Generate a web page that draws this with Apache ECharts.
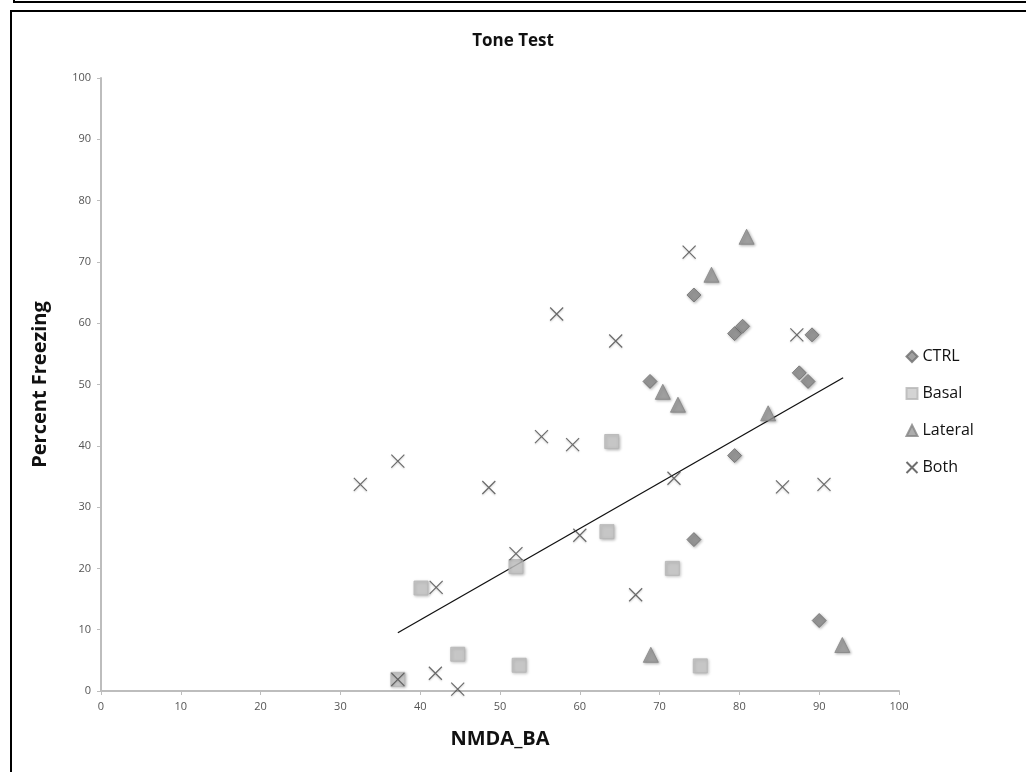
<!DOCTYPE html>
<html>
<head>
<meta charset="utf-8">
<script src="https://cdn.jsdelivr.net/npm/echarts@6/dist/echarts.min.js"></script>
<style>
  html, body { margin: 0; padding: 0; background: #fff; }
  #chart { width: 1026px; height: 772px; }
</style>
</head>
<body>
<div id="chart"></div>
<script>
// values: [NMDA_BA, Percent Freezing]
const ctrlData = [
  [74.3, 64.6], [79.4, 58.3], [80.4, 59.5], [89.1, 58.1], [87.5, 51.9],
  [88.6, 50.5], [68.8, 50.5], [79.4, 38.4], [74.3, 24.7], [90.0, 11.5]
];
const basalData = [
  [40.1, 16.8], [44.7, 6.0], [37.2, 1.9], [52.0, 20.3], [52.4, 4.2],
  [64.0, 40.7], [63.4, 26.0], [71.6, 20.0], [75.1, 4.1]
];
const lateralData = [
  [80.9, 74.1], [76.5, 67.9], [70.4, 48.8], [72.3, 46.7], [83.6, 45.3],
  [68.9, 5.9], [92.9, 7.5]
];
const bothData = [
  [32.5, 33.7], [37.2, 37.5], [48.6, 33.2], [55.2, 41.5], [59.1, 40.2],
  [52.0, 22.4], [42.0, 16.9], [60.0, 25.4], [41.9, 2.9], [37.2, 1.9],
  [44.7, 0.3], [73.7, 71.6], [64.5, 57.1], [87.2, 58.1], [57.1, 61.5],
  [71.8, 34.7], [85.4, 33.3], [90.6, 33.7], [67.0, 15.7]
];
const trendData = [[37.2, 9.5], [93.0, 51.1]];

const crossPath = "path://M0,0L10,10M10,0L0,10";
const markerShadow = {
  shadowBlur: 3,
  shadowColor: "rgba(0, 0, 0, 0.35)",
  shadowOffsetX: 1,
  shadowOffsetY: 1,
};

const chartDom = document.getElementById("chart");
const myChart = echarts.init(chartDom);
const option = {
  backgroundColor: "#fff",
  animation: false,
  textStyle: { fontFamily: "Open Sans" },
  title: {
    text: "Tone Test",
    left: "center",
    top: 28,
    textStyle: { fontSize: 17, fontWeight: "bold", color: "#111", fontFamily: "Open Sans" },
  },
  graphic: [
    {
      type: "rect",
      shape: { x: 14, y: -60, width: 1100, height: 62 },
      style: { fill: "none", stroke: "#000", lineWidth: 2 },
    },
    {
      type: "rect",
      shape: { x: 11, y: 11, width: 1100, height: 900 },
      style: { fill: "none", stroke: "#000", lineWidth: 2 },
    },
  ],
  grid: { left: 101, right: 127, top: 78, bottom: 81 },
  legend: {
    orient: "vertical",
    left: 899,
    top: 343,
    itemWidth: 11,
    itemHeight: 11,
    itemGap: 20,
    textStyle: { fontSize: 16, color: "#111", lineHeight: 17 },
    data: ["CTRL", "Basal", "Lateral", "Both"],
  },
  xAxis: {
    type: "value",
    min: 0,
    max: 100,
    interval: 10,
    name: "NMDA_BA",
    nameLocation: "middle",
    nameGap: 38,
    nameTextStyle: { fontSize: 20, fontWeight: "bold", color: "#111" },
    axisLine: { lineStyle: { color: "#bdbdbd", width: 2 } },
    axisTick: { show: true, length: 4, lineStyle: { color: "#bdbdbd" } },
    axisLabel: { fontSize: 11, color: "#555", margin: 10 },
    splitLine: { show: false },
  },
  yAxis: {
    type: "value",
    min: 0,
    max: 100,
    interval: 10,
    name: "Percent Freezing",
    nameLocation: "middle",
    nameGap: 51,
    nameTextStyle: { fontSize: 20, fontWeight: "bold", color: "#111" },
    axisLine: { show: true, lineStyle: { color: "#bdbdbd", width: 2 } },
    axisTick: { show: true, length: 4, lineStyle: { color: "#bdbdbd" } },
    axisLabel: { fontSize: 11, color: "#555", margin: 10 },
    splitLine: { show: false },
  },
  series: [
    {
      name: "Trend",
      type: "line",
      data: trendData,
      symbol: "none",
      lineStyle: { color: "#111", width: 1.3 },
      silent: true,
      z: 1,
    },
    {
      name: "CTRL",
      type: "scatter",
      data: ctrlData,
      symbol: "diamond",
      symbolSize: 14,
      itemStyle: Object.assign({ color: "#8a8a8a", borderColor: "#6e6e6e", borderWidth: 1 }, markerShadow),
      z: 3,
    },
    {
      name: "Basal",
      type: "scatter",
      data: basalData,
      symbol: "rect",
      symbolSize: 14,
      itemStyle: Object.assign({ color: "#c9c9c9", borderColor: "#b5b5b5", borderWidth: 1 }, markerShadow),
      z: 3,
    },
    {
      name: "Lateral",
      type: "scatter",
      data: lateralData,
      symbol: "triangle",
      symbolSize: 15,
      itemStyle: Object.assign({ color: "#999999", borderColor: "#858585", borderWidth: 1 }, markerShadow),
      z: 3,
    },
    {
      name: "Both",
      type: "scatter",
      data: bothData,
      symbol: crossPath,
      symbolSize: 13,
      itemStyle: {
        color: "none",
        borderColor: "#4a4a4a",
        borderWidth: 1.2,
        shadowBlur: 2,
        shadowColor: "rgba(0, 0, 0, 0.25)",
        shadowOffsetY: 1,
      },
      z: 4,
    },
  ],
};
myChart.setOption(option);
window.addEventListener("resize", () => {
  myChart.resize();
});
</script>
</body>
</html>
